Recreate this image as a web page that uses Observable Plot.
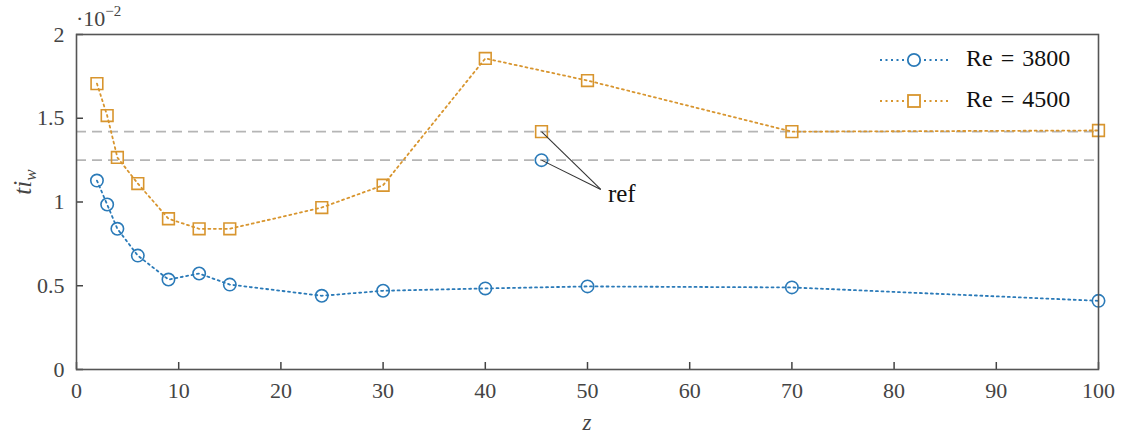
<!DOCTYPE html>
<html>
<head>
<meta charset="utf-8">
<script src="https://cdn.jsdelivr.net/npm/d3@7"></script>
<script src="https://cdn.jsdelivr.net/npm/@observablehq/plot@0.6"></script>
<style>
  html, body { margin: 0; padding: 0; background: #fff; }
  #chart { width: 1121px; height: 437px; }
  #chart svg, #chart svg text { font-family: "Liberation Serif", "Times New Roman", "DejaVu Serif", serif !important; }
</style>
</head>
<body>
<div id="chart"></div>
<script>
// ---- data ----
const zValues = [2, 3, 4, 6, 9, 12, 15, 24, 30, 40, 50, 70, 100];
const re3800 = [1.128, 0.985, 0.84, 0.68, 0.537, 0.573, 0.507, 0.44, 0.47, 0.484, 0.496, 0.49, 0.41];
const re4500 = [1.707, 1.516, 1.266, 1.11, 0.90, 0.84, 0.84, 0.967, 1.10, 1.857, 1.725, 1.42, 1.427];
const seriesNames = ["Re = 3800", "Re = 4500"];
const seriesColors = ["#2a7ab8", "#d8952e"];
const refZ = 45.5;
const refValues = [1.25, 1.42];          // Re=3800 ref, Re=4500 ref
const refLabel = {z: 52, y: 1.05, text: "ref"};
const refLinkEnd = [{z: 51.3, y: 1.075}, {z: 51.3, y: 1.075}];
const xTicks = [0, 10, 20, 30, 40, 50, 60, 70, 80, 90, 100];
const yTicks = [0, 0.5, 1, 1.5, 2];

const W = 1121, H = 437;
const mL = 76, mR = 23, mT = 34, mB = 68;
const pw = W - mL - mR, ph = H - mT - mB;
const FONT = "Liberation Serif";

const d3800 = zValues.map((z, i) => ({z, y: re3800[i]}));
const d4500 = zValues.map((z, i) => ({z, y: re4500[i]}));
const refPts = [{z: refZ, y: refValues[0], s: 0}, {z: refZ, y: refValues[1], s: 1}];
const links = refPts.map((p, i) => ({z1: p.z, y1: p.y, z2: refLinkEnd[i].z, y2: refLinkEnd[i].y}));
const fmt = d3.format("~g");

const plot = Plot.plot({
  width: W, height: H,
  marginLeft: mL, marginRight: mR, marginTop: mT, marginBottom: mB,
  style: {fontFamily: FONT, fontSize: "22px", color: "#333", background: "#fff"},
  x: {domain: [0, 100]},
  y: {domain: [0, 2]},
  marks: [
    Plot.ruleY(refValues, {y: d => d, stroke: "#b5b5b5", strokeWidth: 1.6, strokeDasharray: "10,6"}),
    Plot.line(d3800, {x: "z", y: "y", stroke: seriesColors[0], strokeWidth: 1.8, strokeDasharray: "2,3.5"}),
    Plot.line(d4500, {x: "z", y: "y", stroke: seriesColors[1], strokeWidth: 1.8, strokeDasharray: "2,3.5"}),
    Plot.dot(d3800, {x: "z", y: "y", r: 6.2, symbol: "circle", stroke: seriesColors[0], strokeWidth: 1.6, fill: "none"}),
    Plot.dot(d4500, {x: "z", y: "y", r: 6.6, symbol: "square", stroke: seriesColors[1], strokeWidth: 1.6, fill: "none"}),
    Plot.dot(refPts.filter(d => d.s === 0), {x: "z", y: "y", r: 6.2, symbol: "circle", stroke: seriesColors[0], strokeWidth: 1.6, fill: "none"}),
    Plot.dot(refPts.filter(d => d.s === 1), {x: "z", y: "y", r: 6.6, symbol: "square", stroke: seriesColors[1], strokeWidth: 1.6, fill: "none"}),
    Plot.link(links, {x1: "z1", y1: "y1", x2: "z2", y2: "y2", stroke: "#333", strokeWidth: 1.1}),
    Plot.text([refLabel], {x: "z", y: "y", text: "text", textAnchor: "start", fontSize: 25, fill: "#111"}),
    Plot.tickX(xTicks, {x: d => d, insetTop: ph - 7, stroke: "#444", strokeWidth: 1.5}),
    Plot.tickY(yTicks, {y: d => d, insetRight: pw - 7, stroke: "#444", strokeWidth: 1.5}),
    Plot.axisX(xTicks, {tickSize: 0, tickPadding: 13, label: null, fill: "#444", tickFormat: fmt}),
    Plot.axisY(yTicks, {tickSize: 0, tickPadding: 12, label: null, fill: "#444", tickFormat: fmt}),
    Plot.frame({stroke: "#555", strokeWidth: 1.6})
  ]
});
document.getElementById("chart").appendChild(plot);

// ---- labels and legend (added to the SVG) ----
const svg = d3.select(plot);
const g = svg.append("g").attr("font-family", FONT).attr("fill", "#444").attr("text-anchor", "start");

// x label
g.append("text").attr("x", 587).attr("y", 425).attr("text-anchor", "middle")
  .attr("dominant-baseline", "middle").attr("font-size", 23).attr("font-style", "italic").text("z");

// y label
const yl = g.append("text").attr("transform", "translate(31,182) rotate(-90)")
  .attr("text-anchor", "middle").attr("font-size", 25).attr("font-style", "italic");
yl.append("tspan").text("ti");
yl.append("tspan").attr("dy", 5).attr("font-size", 17).text("w");

// exponent
const ex = g.append("text").attr("x", 76).attr("y", 26).attr("font-size", 22).attr("text-anchor", "start");
ex.append("tspan").text("\u00B710");
ex.append("tspan").attr("dy", -10).attr("font-size", 15).text("\u22122");

// legend
const legend = svg.append("g").attr("font-family", FONT).attr("text-anchor", "start");
seriesNames.forEach((name, i) => {
  const ly = 60 + i * 41;
  legend.append("line").attr("x1", 880).attr("x2", 948).attr("y1", ly).attr("y2", ly)
    .attr("stroke", seriesColors[i]).attr("stroke-width", 1.8).attr("stroke-dasharray", "2,3.5");
  if (i === 0) {
    legend.append("circle").attr("cx", 914).attr("cy", ly).attr("r", 6.2)
      .attr("fill", "white").attr("stroke", seriesColors[i]).attr("stroke-width", 1.8);
  } else {
    legend.append("rect").attr("x", 908).attr("y", ly - 6).attr("width", 12).attr("height", 12)
      .attr("fill", "white").attr("stroke", seriesColors[i]).attr("stroke-width", 1.8);
  }
  legend.append("text").attr("x", 966).attr("y", ly).attr("dominant-baseline", "middle")
    .attr("text-anchor", "start").attr("font-size", 24).attr("word-spacing", 2)
    .attr("fill", "#111").text(name);
});
</script>
</body>
</html>
